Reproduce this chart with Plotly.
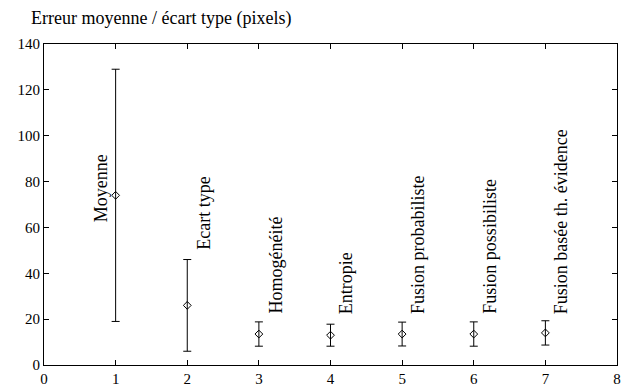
import plotly.graph_objects as go

# Mean error and standard deviation (pixels) for each method
methods = ["Moyenne", "Ecart type", "Homogénéité", "Entropie",
           "Fusion probabiliste", "Fusion possibiliste",
           "Fusion basée th. évidence"]
x_pos = [1, 2, 3, 4, 5, 6, 7]
mean_err = [74, 26, 13.5, 13, 13.5, 13.5, 14]
std_err = [55, 20, 5.3, 4.8, 5.2, 5.3, 5.3]

# Label anchor points (x, y) for the rotated method names
label_x = [0.8, 2.24, 3.24, 4.22, 5.23, 6.23, 7.23]
label_y = [61.5, 49.4, 21.4, 21.4, 21.4, 21.4, 21.4]

font_family = "Liberation Serif"

fig = go.Figure()
fig.add_trace(go.Scatter(
    x=x_pos, y=mean_err, mode="markers",
    marker=dict(symbol="diamond-open", size=6, color="black",
                line=dict(width=1, color="black")),
    error_y=dict(type="data", array=std_err, visible=True,
                 color="black", thickness=1, width=4),
    showlegend=False,
))

for name, lx, ly in zip(methods, label_x, label_y):
    fig.add_annotation(
        x=lx, y=ly, text=name, showarrow=False, textangle=-90,
        xanchor="center", yanchor="bottom",
        font=dict(family=font_family, size=18, color="black"),
    )

fig.add_annotation(
    xref="paper", yref="paper", x=-0.026, y=1.078,
    text="Erreur moyenne / écart type (pixels)", showarrow=False,
    xanchor="left", yanchor="middle",
    font=dict(family=font_family, size=18, color="black"),
)

axis_common = dict(
    showgrid=False, zeroline=False, showline=True, linecolor="black",
    linewidth=1, mirror="ticks", ticks="inside", ticklen=5,
    tickcolor="black", tickwidth=1, automargin=False,
    tickfont=dict(family=font_family, size=15, color="black"),
)

fig.update_layout(
    width=626, height=387,
    margin=dict(l=44, r=9, t=44, b=22),
    paper_bgcolor="white", plot_bgcolor="white",
    xaxis=dict(range=[0, 8], dtick=1, **axis_common),
    yaxis=dict(range=[0, 140], dtick=20, **axis_common),
)

fig.write_html("out.html")
